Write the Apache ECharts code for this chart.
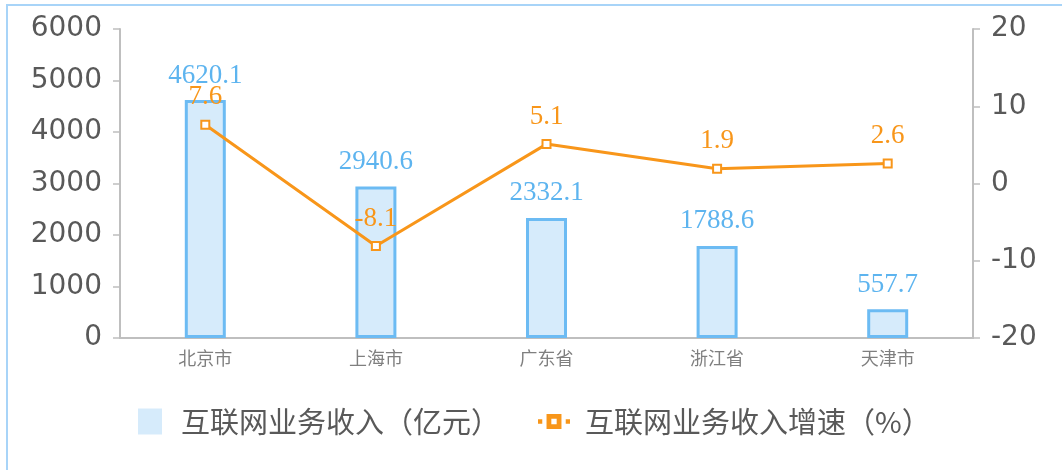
<!DOCTYPE html>
<html>
<head>
<meta charset="utf-8">
<script src="https://cdn.jsdelivr.net/npm/echarts@6/dist/echarts.min.js"></script>
<style>html,body{margin:0;padding:0;background:#fff;}#c{width:1062px;height:470px;}</style>
</head>
<body>
<div id="c"></div>
<script>
var categories = ['北京市', '上海市', '广东省', '浙江省', '天津市'];
var revenue = [4620.1, 2940.6, 2332.1, 1788.6, 557.7];
var growth = [7.6, -8.1, 5.1, 1.9, 2.6];
var seriesNames = ['互联网业务收入（亿元）', '互联网业务收入增速（%）'];

var chart = echarts.init(document.getElementById('c'), null, {renderer: 'canvas'});
var axisGray = '#bfbfbf';
var tickText = '#595959';
var orange = '#f8961a';
var blueText = '#5db4ef';
var lineIcon = 'path://M0 6L4 6L4 10L0 10Z M8 1L22 1L22 15L8 15Z M12.5 5.5L12.5 10.5L17.5 10.5L17.5 5.5Z M26 6L30 6L30 10L26 10Z';
chart.setOption({
  animation: false,
  backgroundColor: '#fff',
  graphic: [{
    type: 'rect', silent: true,
    shape: {x: 7, y: 5, width: 1060, height: 470},
    style: {fill: 'none', stroke: '#a8d4f8', lineWidth: 2}
  }],
  grid: {left: 120, right: 89, top: 29, bottom: 132, containLabel: false},
  legend: {
    left: 133, top: 402,
    itemWidth: 32, itemHeight: 26, itemGap: 38,
    symbolKeepAspect: true,
    textStyle: {fontFamily: 'Noto Sans CJK SC', fontSize: 29, color: tickText, padding: [0, 0, 0, 10]},
    data: [
      {name: seriesNames[0], icon: 'path://M0 0L24 0L24 26L0 26Z', itemStyle: {color: '#d6ebfb', borderWidth: 0}},
      {name: seriesNames[1], icon: lineIcon, itemStyle: {color: orange, borderWidth: 0}}
    ]
  },
  xAxis: {
    type: 'category', data: categories, boundaryGap: true,
    axisLine: {show: true, lineStyle: {color: axisGray, width: 2}},
    axisTick: {show: false},
    axisLabel: {fontFamily: 'Noto Sans CJK SC', fontSize: 18, color: '#7f7f7f', margin: 11}
  },
  yAxis: [{
    type: 'value', min: 0, max: 6000, interval: 1000, position: 'left',
    axisLine: {show: true, lineStyle: {color: axisGray, width: 2}},
    axisTick: {show: true, inside: false, length: 7, lineStyle: {color: axisGray, width: 1.5}},
    splitLine: {show: false},
    axisLabel: {fontFamily: 'DejaVu Sans', fontSize: 28, color: tickText, margin: 18,
      formatter: function (v) { return String(v); }}
  }, {
    type: 'value', min: -20, max: 20, interval: 10, position: 'right',
    axisLine: {show: true, lineStyle: {color: axisGray, width: 2}},
    axisTick: {show: true, inside: false, length: 7, lineStyle: {color: axisGray, width: 1.5}},
    splitLine: {show: false},
    axisLabel: {fontFamily: 'DejaVu Sans', fontSize: 28, color: tickText, margin: 18,
      formatter: function (v) { return String(v); }}
  }],
  series: [{
    name: seriesNames[0], type: 'bar', yAxisIndex: 0, data: revenue,
    barWidth: 41,
    itemStyle: {color: '#d6ebfb', borderColor: '#6cbbf3', borderWidth: 3},
    label: {show: true, position: 'top', distance: 11, fontFamily: 'Liberation Serif', fontSize: 27, color: blueText}
  }, {
    name: seriesNames[1], type: 'line', yAxisIndex: 1, data: growth,
    symbol: 'emptyRect', symbolSize: 8, showAllSymbol: true,
    lineStyle: {color: orange, width: 3},
    itemStyle: {color: orange, borderColor: orange, borderWidth: 3.5},
    label: {show: true, position: 'top', distance: 9, fontFamily: 'Liberation Serif', fontSize: 27, color: orange},
    z: 5
  }]
});
</script>
</body>
</html>
